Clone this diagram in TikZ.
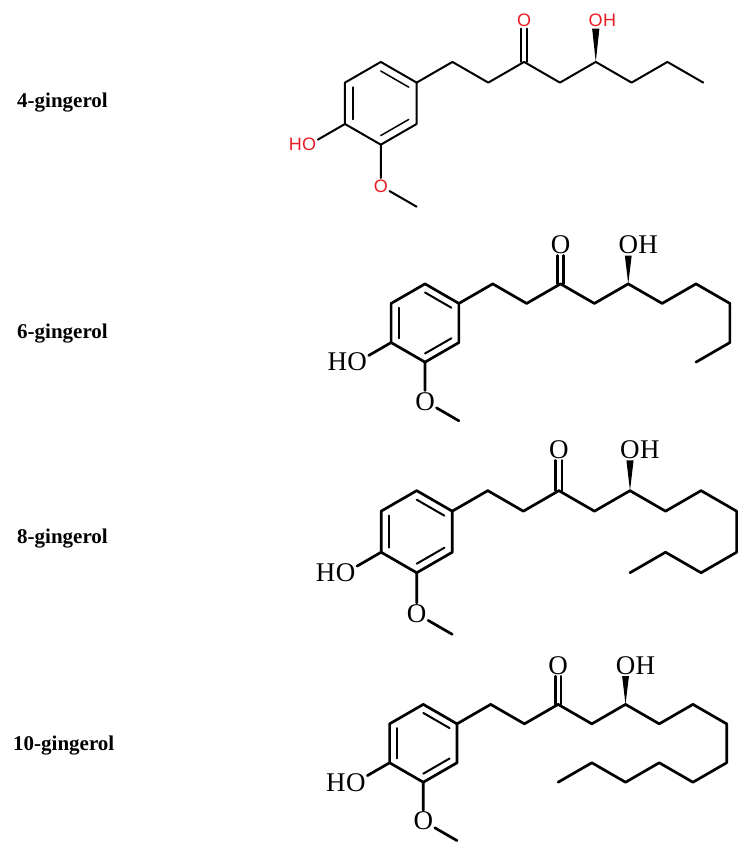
\documentclass[tikz,border=0pt]{standalone}
\usepackage{fontspec}
\setmainfont{Liberation Serif}
\newfontfamily\atomsans{Liberation Sans}
\usetikzlibrary{calc}
\definecolor{atomred}{RGB}{235,28,36}
\tikzset{
  bondA/.style={line width=2pt, line cap=round, line join=round},
  innerA/.style={line width=1.5pt, line cap=round},
  atomA/.style={inner sep=1.5pt, text=atomred, font=\atomsans\fontsize{18}{18}\selectfont},
  hatomA/.style={inner sep=0pt, text=atomred, font=\atomsans\fontsize{18}{18}\selectfont},
  bondB/.style={line width=2.7pt, line cap=round, line join=round},
  innerB/.style={line width=2pt, line cap=round},
  atomB/.style={inner sep=1.5pt, font=\fontsize{27}{27}\selectfont},
  hatomB/.style={inner sep=0pt, font=\fontsize{27}{27}\selectfont},
  title/.style={anchor=west, inner sep=0pt, font=\bfseries\fontsize{21}{21}\selectfont},
}
% #1 prefix, #2 x, #3 y, #4 scale, #5 tail length, #6 style suffix, #7 double-bond half gap
\newcommand\gingerol[7]{%
\begin{scope}[shift={(#2,-#3)}, scale=#4]
\coordinate (#1c) at (0,0);
\coordinate (#1r1) at (0,40);
\coordinate (#1r2) at (34.641,20);
\coordinate (#1r3) at (34.641,-20);
\coordinate (#1r4) at (0,-40);
\coordinate (#1r5) at (-34.641,-20);
\coordinate (#1r6) at (-34.641,20);
\coordinate (#1a1) at (69.282,40);
\coordinate (#1a2) at (103.923,20);
\coordinate (#1a3) at (138.564,40);
\coordinate (#1a4) at (173.205,20);
\coordinate (#1t0) at (207.846,40);
\coordinate (#1t1) at (242.487,20);
\coordinate (#1t2) at (277.128,40);
\coordinate (#1t3) at (311.769,20);
\coordinate (#1t4) at (311.769,-20);
\coordinate (#1t5) at (277.128,-40);
\coordinate (#1t6) at (242.487,-20);
\coordinate (#1t7) at (207.846,-40);
\coordinate (#1t8) at (173.205,-20);
\coordinate (#1t9) at (138.564,-40);
\coordinate (#1me) at (34.641,-100);
\node[atom#6] (#1ok) at (138.564,80) {O};
\node[atom#6] (#1oh) at (207.846,80) {O};
\node[hatom#6, anchor=base west] (#1hh) at ([xshift=-1.5pt]#1oh.base east) {H};
\node[atom#6] (#1op) at (-69.282,-40) {O};
\node[hatom#6, anchor=base east] (#1hp) at ([xshift=1.5pt]#1op.base west) {H};
\node[atom#6] (#1om) at (0,-80) {O};
\draw[bond#6] (#1r1) -- (#1r2) -- (#1r3) -- (#1r4) -- (#1r5) -- (#1r6) -- cycle;
\draw[inner#6] ($(#1c)!0.78!(#1r6)$) -- ($(#1c)!0.78!(#1r5)$);
\draw[inner#6] ($(#1c)!0.78!(#1r1)$) -- ($(#1c)!0.78!(#1r2)$);
\draw[inner#6] ($(#1c)!0.78!(#1r3)$) -- ($(#1c)!0.78!(#1r4)$);
\draw[bond#6] (#1r2) -- (#1a1) -- (#1a2) -- (#1a3) -- (#1a4) -- (#1t0)
  \foreach \i in {1,...,#5} { -- (#1t\i) };
\draw[bond#6] ([xshift=-#7]#1a3) -- ([xshift=-#7]#1ok.south);
\draw[bond#6] ([xshift=#7]#1a3) -- ([xshift=#7]#1ok.south);
\fill (#1t0) -- ([xshift=-3.5pt]#1oh.south) -- ([xshift=3.5pt]#1oh.south) -- cycle;
\draw[bond#6] (#1r5) -- (#1op);
\draw[bond#6] (#1r4) -- (#1om) -- (#1me);
\end{scope}}
\begin{document}
\begin{tikzpicture}[x=1pt, y=1pt]
\useasboundingbox[fill=white] (0,0) rectangle (751,-861);
\node[title] (n4) at (17,-103) {4-gingerol};
\node[title] (n6) at (17,-334) {6-gingerol};
\node[title] (n8) at (17,-539) {8-gingerol};
\node[title] (n10) at (13,-746) {10-gingerol};
\gingerol{m1}{380.8}{103.3}{1.034}{3}{A}{3pt}
\gingerol{m2}{425}{323}{0.978}{5}{B}{3pt}
\gingerol{m3}{416.7}{531.7}{1.026}{7}{B}{3pt}
\gingerol{m4}{423.3}{743.3}{0.973}{9}{B}{3pt}
\end{tikzpicture}
\end{document}
